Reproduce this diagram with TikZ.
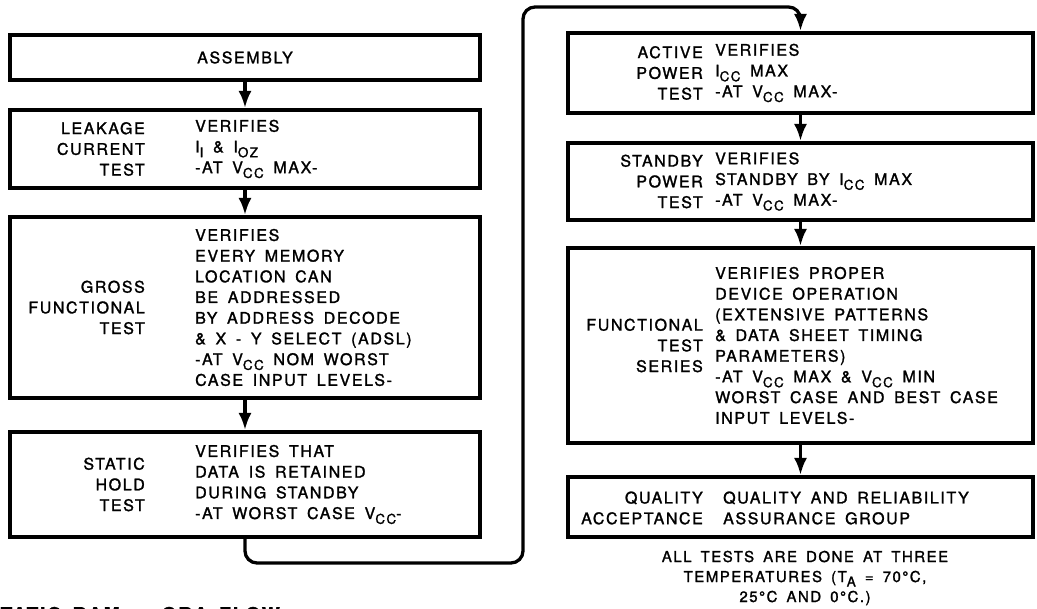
\documentclass[tikz,border=0pt]{standalone}
\usepackage{fontspec}
\setmainfont{TeX Gyre Heros}[LetterSpace=10,WordSpace=1.6,FakeBold=1.5]
\usepackage{tikz}
\usetikzlibrary{arrows.meta}
\tikzset{
  stage/.style={draw, line width=4pt, inner sep=0pt},
  lbl/.style={anchor=east, align=right, inner sep=0pt, font=\fontsize{16}{20.7}\selectfont},
  txt/.style={anchor=west, align=left, inner sep=0pt, font=\fontsize{16}{20.7}\selectfont},
  flow/.style={line width=3.3pt, -{Latex[length=17pt,width=13pt]}}
}
\newcommand{\dn}[1]{\raisebox{-0.3em}{\fontsize{13.5}{13.5}\selectfont #1}}

\begin{document}
\begin{tikzpicture}[x=1pt,y=1pt]
    \useasboundingbox (0,0) rectangle (1037,609);
    % left column
    \node[stage, minimum width=470pt, minimum height=45pt, font=\fontsize{16}{20.7}\selectfont] (assembly) at (245,551.5) {ASSEMBLY};
    \node[stage, minimum width=470pt, minimum height=78pt] (leak) at (245,460) {};
    \node[stage, minimum width=470pt, minimum height=181pt] (gross) at (245,301.5) {};
    \node[stage, minimum width=470pt, minimum height=105pt] (static) at (245,124.5) {};
    \node[lbl] (leakL) at (145,460) {LEAKAGE\\CURRENT\\TEST};
    \node[txt] (leakT) at (195,460) {VERIFIES\\I\dn{I} \& I\dn{OZ}\\-AT V\dn{CC} MAX-};
    \node[lbl] (grossL) at (145,301.5) {GROSS\\FUNCTIONAL\\TEST};
    \node[txt] (grossT) at (195,301.5) {VERIFIES\\EVERY MEMORY\\LOCATION CAN\\BE ADDRESSED\\BY ADDRESS DECODE\\\& X - Y SELECT (ADSL)\\-AT V\dn{CC} NOM WORST\\CASE INPUT LEVELS-};
    \node[lbl] (staticL) at (145,124.5) {STATIC\\HOLD\\TEST};
    \node[txt] (staticT) at (195,124.5) {VERIFIES THAT\\DATA IS RETAINED\\DURING STANDBY\\-AT WORST CASE V\dn{CC}-};
    % right column
    \node[stage, minimum width=465pt, minimum height=80pt] (active) at (800.5,536) {};
    \node[stage, minimum width=465pt, minimum height=77pt] (standby) at (800.5,427.5) {};
    \node[stage, minimum width=465pt, minimum height=195pt] (func) at (800.5,263.5) {};
    \node[stage, minimum width=465pt, minimum height=60pt] (quality) at (800.5,102) {};
    \node[lbl] (activeL) at (703,536) {ACTIVE\\POWER\\TEST};
    \node[txt] (activeT) at (715,536) {VERIFIES\\I\dn{CC} MAX\\-AT V\dn{CC} MAX-};
    \node[lbl] (standbyL) at (703,427.5) {STANDBY\\POWER\\TEST};
    \node[txt] (standbyT) at (715,427.5) {VERIFIES\\STANDBY BY I\dn{CC} MAX\\-AT V\dn{CC} MAX-};
    \node[lbl] (funcL) at (703,263.5) {FUNCTIONAL\\TEST\\SERIES};
    \node[txt] (funcT) at (715,263.5) {VERIFIES PROPER\\DEVICE OPERATION\\(EXTENSIVE PATTERNS\\\& DATA SHEET TIMING\\PARAMETERS)\\-AT V\dn{CC} MAX \& V\dn{CC} MIN\\WORST CASE AND BEST CASE\\INPUT LEVELS-};
    \node[lbl] (qualityL) at (703,101) {QUALITY\\ACCEPTANCE};
    \node[txt] (qualityT) at (723,101) {QUALITY AND RELIABILITY\\ASSURANCE GROUP};
    \node[align=center, inner sep=0pt, font=\fontsize{15}{20}\selectfont] (note) at (805,31) {ALL TESTS ARE DONE AT THREE\\TEMPERATURES (T\dn{A} = 70°C,\\25°C AND 0°C.)};
    \node[anchor=base west, inner sep=0pt, font=\fontsize{19}{19}\selectfont\bfseries] (title) at (-14,-12) {STATIC RAM — QRA FLOW};
    % arrows
    \draw[flow] (assembly) -- (leak);
    \draw[flow] (leak) -- (gross);
    \draw[flow] (gross) -- (static);
    \draw[flow] (active) -- (standby);
    \draw[flow] (standby) -- (func);
    \draw[flow] (func) -- (quality);
    \coordinate (loopB) at (523,46);
    \coordinate (loopT) at (523,602);
    \draw[flow, rounded corners=12pt] (static.south) |- (loopB) -- (loopT) -| (active.north);
\end{tikzpicture}
\end{document}
